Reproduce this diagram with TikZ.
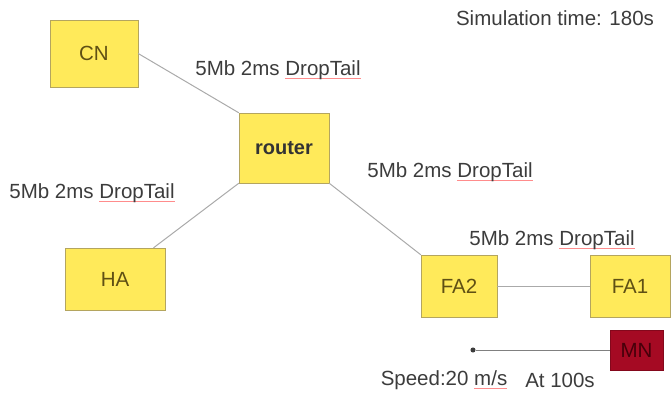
\documentclass[tikz,border=0pt]{standalone}
\usepackage{fontspec}
\setmainfont{Liberation Sans}
\usepackage{tikz}
\usetikzlibrary{calc}

\definecolor{boxfill}{RGB}{255,234,90}
\definecolor{boxline}{RGB}{180,165,95}
\definecolor{boxtext}{RGB}{95,80,20}
\definecolor{mnfill}{RGB}{165,10,35}
\definecolor{mntext}{RGB}{70,0,10}
\definecolor{linkgray}{RGB}{170,170,170}
\definecolor{txtgray}{RGB}{60,60,60}

% thin red line under a word
\newcommand{\spellmark}[1]{\setbox0\hbox{#1}\rlap{\color{red!45}\rule[-3.5pt]{\wd0}{0.6pt}}\box0}

\begin{document}
\begin{tikzpicture}[x=1pt,y=-1pt,
  every node/.style={font=\fontsize{20.5}{24}\selectfont},
  netbox/.style={draw=boxline,fill=boxfill,text=boxtext,inner sep=0pt},
  link/.style={draw=linkgray,line width=1pt},
  lbl/.style={text=txtgray,inner sep=0pt}]
\useasboundingbox (0,0) rectangle (671,394);
\node[netbox,minimum width=88pt,minimum height=67pt] (cn) at (94,53.5) {CN};
\node[netbox,minimum width=90pt,minimum height=70pt,text=black!80,font=\fontsize{20}{24}\selectfont\bfseries] (router) at (284,148) {router};
\node[netbox,minimum width=100pt,minimum height=62pt] (ha) at (115,279) {HA};
\node[netbox,minimum width=76pt,minimum height=62pt] (fa2) at (459,286) {FA2};
\node[netbox,minimum width=80pt,minimum height=62pt] (fa1) at (630,286) {FA1};
\node[draw=mnfill!80!black,fill=mnfill,text=mntext,inner sep=0pt,minimum width=53pt,minimum height=40pt] (mn) at (636.5,350) {MN};
\node[circle,fill=txtgray,inner sep=1.8pt] (dest) at (473,350) {};

% wired links
\draw[link] (cn.east) -- (router.north west);
\draw[link] (router.south west) -- (ha.39);
\draw[link] (router.south east) -- (fa2.north west);
\draw[link] (fa2.east) -- (fa1.west);
% movement of the mobile node
\draw[gray,line width=1pt] (mn.west) -- (dest);

\node[lbl] (simtime) at (555,18) {Simulation time: 180s};
\node[lbl] (cnlink) at (278,70) {5Mb 2ms \spellmark{DropTail}};
\node[lbl] (halink) at (92,193) {5Mb 2ms \spellmark{DropTail}};
\node[lbl] (falink) at (450,172) {5Mb 2ms \spellmark{DropTail}};
\node[lbl] (fa12link) at (552,240) {5Mb 2ms \spellmark{DropTail}};
\node[lbl] (speed) at (444,380) {Speed:20 \spellmark{m/s}};
\node[lbl] (start) at (560,380) {At 100s};
\end{tikzpicture}
\end{document}
